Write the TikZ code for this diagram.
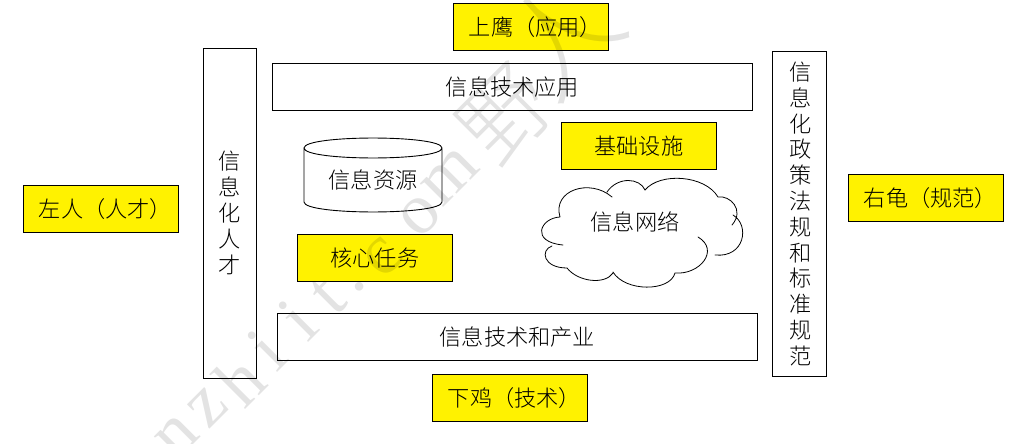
\documentclass[tikz,border=0pt]{standalone}
\usepackage{fontspec}
\setmainfont{Noto Sans CJK SC Light}
\newfontfamily\wmfont{Liberation Serif}
\tikzset{
  px/.style={x=1pt,y=-1pt},
  plainbox/.style={draw=black,fill=white,line width=0.9pt,inner sep=0pt},
  yellowbox/.style={plainbox,fill=yellow},
  lbl/.style={font=\fontsize{22.2}{25}\selectfont,text=black},
  vlbl/.style={lbl,align=center,inner sep=0pt,font=\fontsize{22.2}{25.8}\selectfont},
  cloudline/.style={draw=black,line width=0.8pt,line cap=round},
  wm/.style={text=black,text opacity=0.11,rotate=45,font=\wmfont\fontsize{72}{74}\selectfont,inner sep=0pt},
  wmk/.style={wm,font=\fontsize{90}{92}\selectfont}
}
\newcommand{\bx}[6]{\node[#1,minimum width=#4pt,minimum height=#5pt,anchor=north west,lbl] (#2) at (#3) {#6};}
\begin{document}
\begin{tikzpicture}[px]
\useasboundingbox (0,0) rectangle (1012,444);
\bx{yellowbox}{ying}{453,3}{155}{47}{\hspace*{9pt}上鹰（应用）}
\bx{yellowbox}{ren}{23,185}{155}{47}{\hspace*{9pt}左人（人才）}
\bx{yellowbox}{gui}{848,174}{155}{47}{\hspace*{9pt}右龟（规范）}
\bx{yellowbox}{ji}{432,374}{155}{47}{\hspace*{9pt}下鸡（技术）}
\bx{plainbox}{app}{272,63}{480}{47}{信息技术应用}
\bx{plainbox}{ind}{277,313}{480}{47}{信息技术和产业}
\bx{yellowbox}{infra}{561,122}{155}{47}{基础设施}
\bx{yellowbox}{core}{297,234}{155}{47}{核心任务}
\bx{plainbox}{talent}{203,48}{53}{330}{}
\node[vlbl] (talentt) at (230,213) {信\\息\\化\\人\\才};
\bx{plainbox}{policy}{772,51}{54}{325}{}
\node[vlbl] (policyt) at (800.5,214) {信\\息\\化\\政\\策\\法\\规\\和\\标\\准\\规\\范};
\draw[plainbox] (304,148) -- (304,202) .. controls (304,215.3) and (442,215.3) .. (442,202) -- (442,148)
  .. controls (442,134.7) and (304,134.7) .. (304,148) .. controls (304,161.3) and (442,161.3) .. (442,148);
\node[lbl] (res) at (373,180) {信息资源};
\draw[cloudline]
 (560,217) .. controls (540,218) and (530,242) .. (563,245)
 (552,246) .. controls (540,250) and (543,268) .. (567,268)
 .. controls (578,282) and (605,285) .. (613,273)
 (613,272) .. controls (625,292) and (670,292) .. (675,273)
 .. controls (700,275) and (720,250) .. (698,237)
 (715,255) .. controls (745,258) and (750,225) .. (733,215)
 (732,225) .. controls (745,210) and (730,195) .. (718,197)
 .. controls (705,175) and (660,172) .. (645,190)
 .. controls (640,178) and (618,176) .. (607,192)
 (612,197) .. controls (590,178) and (552,190) .. (560,217);
\node[lbl] (net) at (635,222) {信息网络};
\node[wm] (w1) at (177,437) {n};
\node[wm] (w2) at (208,408) {z};
\node[wm] (w3) at (240,380) {h};
\node[wm] (w4) at (267,350) {i};
\node[wm] (w5) at (298,320) {i};
\node[wm] (w6) at (328,296) {t};
\node[wm] (w7) at (360,287) {.};
\node[wm] (w8) at (383,257) {c};
\node[wm] (w9) at (420,216) {o};
\node[wm] (w10) at (450,177) {m};
\node[wmk] (w11) at (507,115) {野};
\node[wmk,font=\fontsize{112}{114}\selectfont] (w12) at (561,36) {人};
\end{tikzpicture}
\end{document}
